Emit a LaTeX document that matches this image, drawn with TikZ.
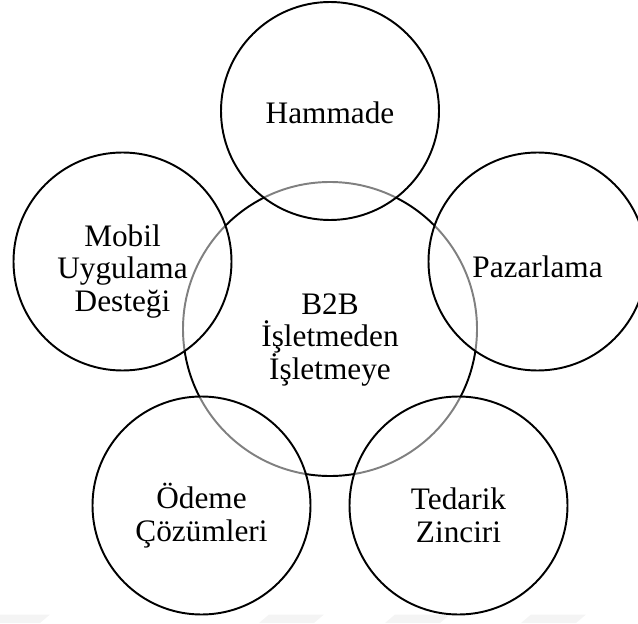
\documentclass[tikz,border=0pt]{standalone}
\usepackage{fontspec}
\setmainfont{Liberation Serif}
\begin{document}
\begin{tikzpicture}[main/.style={draw, circle, line width=1.1pt, inner sep=0pt, minimum size=5.88cm},
		part/.style={main, minimum size=4.36cm, fill=white, fill opacity=0.5},
		txt/.style={align=center, inner sep=0pt, font=\fontsize{17.8}{18.5}\selectfont}]
		\useasboundingbox (0,0) rectangle (12.76,12.46);
		% faint marks at the bottom
		\foreach \x in {-0.3,5.18,7.7,10.42}
			\fill[gray!9] (\x,0) -- (\x+0.2,0.17) -- (\x+1.3,0.17) -- (\x+1.1,0) -- cycle;
		\node[main] (B2B) at (6.60,5.88) {};
		% Circles
		\node[part] (Hammade) at (6.60,10.24) {};
		\node[part] (Mobil) at (2.45,7.23) {};
		\node[part] (Pazarlama) at (10.75,7.23) {};
		\node[part] (Odeme) at (4.03,2.35) {};
		\node[part] (Tedarik) at (9.17,2.35) {};
		% Texts
		\node[txt] (B2B text) at ([yshift=-0.22cm]B2B) {B2B\\ İşletmeden\\ İşletmeye};
		\node[txt] (Hammade text) at ([yshift=-0.04cm]Hammade) {Hammade};
		\node[txt] (Mobil text) at ([yshift=-0.2cm]Mobil) {Mobil\\ Uygulama\\ Desteği};
		\node[txt] (Pazarlama text) at ([yshift=-0.1cm]Pazarlama) {Pazarlama};
		\node[txt] (Odeme text) at ([yshift=-0.2cm]Odeme) {Ödeme\\ Çözümleri};
		\node[txt] (Tedarik text) at ([yshift=-0.2cm]Tedarik) {Tedarik\\ Zinciri};
	\end{tikzpicture}
\end{document}
